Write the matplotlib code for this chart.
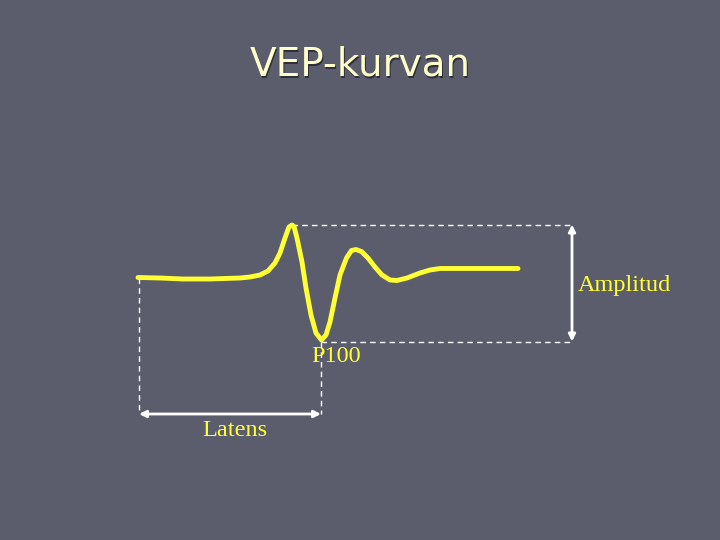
import matplotlib
matplotlib.use('Agg')
import matplotlib.pyplot as plt

# VEP-kurva, punkter (x = tid, y = spänning, i bildens koordinater)
kurva_x = [138, 160, 183, 210, 240, 250, 260, 268, 275, 280, 285, 289, 292, 294,
           297, 302, 306, 311, 316, 321.5, 326, 330, 335, 340, 346.5, 351.5, 356,
           361.5, 368, 375, 382, 390, 397, 407, 420, 430, 440, 460, 518]
kurva_y = [277.5, 278, 279, 279, 278, 277, 275, 271, 263, 253, 238, 227, 225, 226.5,
           238, 262, 288, 315, 333, 340, 335, 322, 298, 275, 258, 250.5, 249.5,
           251.5, 258, 267, 275, 280, 280.5, 278, 273, 270, 268.5, 268.5, 268.5]

topp_x, topp_y = 292, 224.5      # positiv topp
p100_x, p100_y = 321, 341.5      # P100
baslinje_x = 139
latens_y = 414
amp_x = 572

bakgrund = '#5b5d6c'
gul = '#ffff33'

fig = plt.figure(figsize=(7.2, 5.4), dpi=100, facecolor=bakgrund)
ax = fig.add_axes([0, 0, 1, 1])
ax.set_facecolor(bakgrund)
ax.set_xlim(0, 720)
ax.set_ylim(540, 0)
ax.axis('off')

# titel med skugga
ax.text(361.5, 66.5, 'VEP-kurvan', fontsize=28, color='#2e2f38', ha='center', va='center',
        family='DejaVu Sans')
ax.text(360, 65, 'VEP-kurvan', fontsize=28, color='#ffffcc', ha='center', va='center',
        family='DejaVu Sans')

# hjälplinjer
ax.plot([topp_x, amp_x], [topp_y, topp_y], color='white', lw=1, ls=(0, (4, 3)))
ax.plot([p100_x, amp_x], [p100_y, p100_y], color='white', lw=1, ls=(0, (4, 3)))
ax.plot([baslinje_x, baslinje_x], [kurva_y[0], latens_y], color='white', lw=1, ls=(0, (4, 3)))
ax.plot([p100_x, p100_x], [p100_y, latens_y], color='white', lw=1, ls=(0, (4, 3)))

# pilar
pil = dict(arrowstyle='<|-|>', color='white', lw=2, mutation_scale=10, shrinkA=0, shrinkB=0)
ax.annotate('', xy=(amp_x, topp_y), xytext=(amp_x, p100_y), arrowprops=pil)
ax.annotate('', xy=(baslinje_x, latens_y), xytext=(p100_x, latens_y), arrowprops=pil)

# kurvan
ax.plot(kurva_x, kurva_y, color=gul, lw=3.5, solid_capstyle='round', solid_joinstyle='round')

# etiketter
ax.text(578, 285, 'Amplitud', fontsize=17.5, color=gul, ha='left', va='center',
        family='Liberation Serif')
ax.text(336, 356, 'P100', fontsize=17.5, color=gul, ha='center', va='center',
        family='Liberation Serif')
ax.text(235, 431, 'Latens', fontsize=17.5, color=gul, ha='center', va='center',
        family='Liberation Serif')

fig.savefig('out.png', dpi=100, facecolor=bakgrund)
